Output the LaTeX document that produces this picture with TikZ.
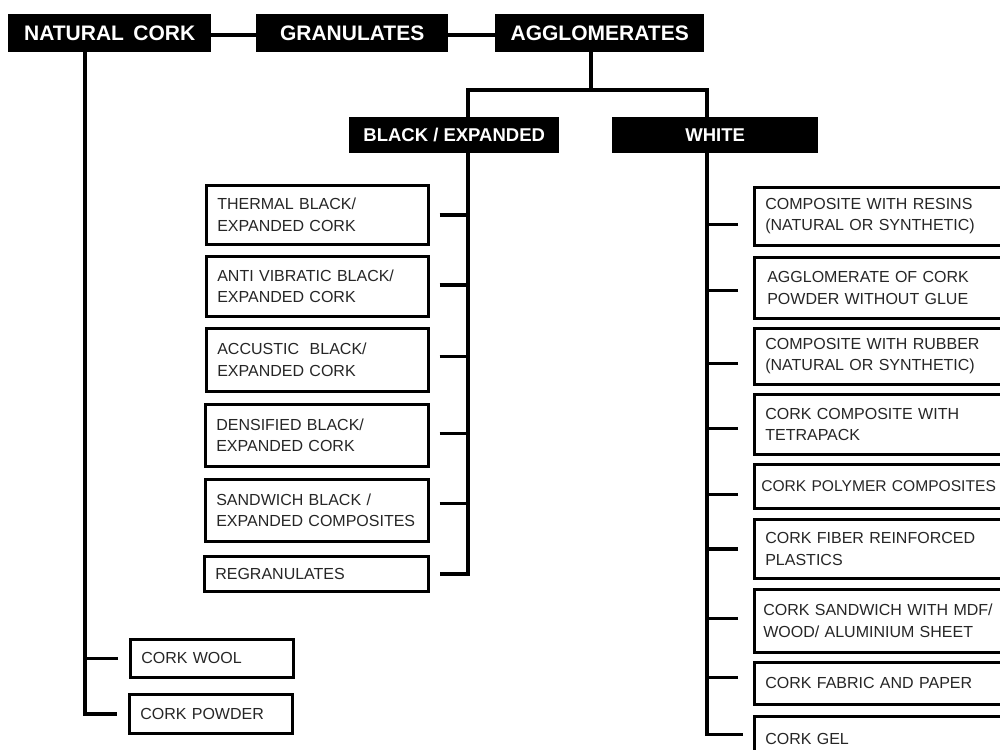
\documentclass[tikz,border=0pt]{standalone}
\usepackage{fontspec}
\setmainfont{Liberation Sans}
\definecolor{txt}{HTML}{262626}
\begin{document}
\begin{tikzpicture}[x=1pt,y=-1pt,
  conn/.style={line width=3.6pt, line join=miter},
  hdr/.style={fill=black, text=white, anchor=north west, inner sep=0pt, font=\bfseries\fontsize{21}{21}\selectfont},
  subhdr/.style={hdr, font=\bfseries\fontsize{18.5}{18.5}\selectfont},
  item/.style={draw=black, line width=2.6pt, anchor=north west, inner xsep=11pt, inner ysep=0pt, align=left, text=txt, font=\fontsize{16}{21.5}\selectfont}]
\fill[white] (0,0) rectangle (1000,749);
\useasboundingbox (0,0) rectangle (1000,749);
\clip (0,0) rectangle (1000,749);

% headers
\node[hdr, minimum width=203pt, minimum height=38pt] (nat) at (8,14) {NATURAL\hspace{0.45em}CORK};
\node[hdr, minimum width=192pt, minimum height=38pt] (gran) at (256,14) {GRANULATES};
\node[hdr, minimum width=209pt, minimum height=38pt] (aggl) at (495,14) {AGGLOMERATES};
\node[subhdr, minimum width=210pt, minimum height=36pt] (be) at (349,117) {BLACK / EXPANDED};
\node[subhdr, minimum width=206pt, minimum height=36pt] (wh) at (612,117) {WHITE};

% black / expanded items
\node[item, text width=200pt, minimum height=59pt] (b1) at (205,184) {THERMAL BLACK/\\EXPANDED CORK};
\node[item, text width=200pt, minimum height=60pt] (b2) at (205,255) {ANTI VIBRATIC BLACK/\\EXPANDED CORK};
\node[item, text width=200pt, minimum height=63pt] (b3) at (205,327) {ACCUSTIC\ \ BLACK/\\EXPANDED CORK};
\node[item, text width=201pt, minimum height=62pt] (b4) at (204,403) {DENSIFIED BLACK/\\EXPANDED CORK};
\node[item, text width=201pt, minimum height=62pt] (b5) at (204,478) {SANDWICH BLACK /\\EXPANDED COMPOSITES};
\node[item, text width=202pt, minimum height=35pt] (b6) at (203,555) {REGRANULATES};

% white items
\node[item, text width=262pt, minimum height=58pt] (w1) at (753,186) {COMPOSITE WITH RESINS\\(NATURAL OR SYNTHETIC)};
\node[item, text width=262pt, minimum height=61pt] (w2) at (753,256) {\hspace{2pt}AGGLOMERATE OF CORK\\\hspace{2pt}POWDER WITHOUT GLUE};
\node[item, text width=262pt, minimum height=56pt] (w3) at (753,327) {COMPOSITE WITH RUBBER\\(NATURAL OR SYNTHETIC)};
\node[item, text width=262pt, minimum height=60pt] (w4) at (753,393) {CORK COMPOSITE WITH\\TETRAPACK};
\node[item, text width=270pt, inner xsep=7pt, minimum height=44pt, font=\fontsize{15.6}{21.5}\selectfont] (w5) at (753,463) {CORK POLYMER COMPOSITES};
\node[item, text width=262pt, minimum height=59pt] (w6) at (753,518) {CORK FIBER REINFORCED\\PLASTICS};
\node[item, text width=266pt, inner xsep=9pt, minimum height=63pt] (w7) at (753,588) {CORK SANDWICH WITH MDF/\\WOOD/ ALUMINIUM SHEET};
\node[item, text width=262pt, minimum height=42pt] (w8) at (753,661) {CORK FABRIC AND PAPER};
\node[item, text width=262pt, minimum height=45pt] (w9) at (753,715) {CORK GEL};

% natural cork items
\node[item, text width=141pt, minimum height=38pt] (wool) at (129,638) {CORK WOOL};
\node[item, text width=141pt, minimum height=39pt] (powder) at (128,693) {CORK POWDER};

% trunk coordinates
\coordinate (nv) at (85,0);
\coordinate (bv) at (468,0);
\coordinate (wv) at (707,0);
\coordinate (split) at (591,90);

% top row
\draw[conn] ([yshift=-2pt]nat.east) -- ([yshift=-2pt]gran.west);
\draw[conn] ([yshift=-2pt]gran.east) -- ([yshift=-2pt]aggl.west);
\draw[conn] (aggl.south -| split) -- (split);
\draw[conn] (be.north -| bv) |- (split) -| (wh.north -| wv);

% natural cork branch
\draw[conn, shorten >=11pt] (nat.south -| nv) |- (powder.west);
\draw[conn, shorten <=11pt] (wool.west) -- (wool.west -| nv);

% black branch
\draw[conn, shorten >=10pt] (be.south -| bv) |- (b6.east);
\foreach \n/\s in {b1/0, b2/1.5, b3/3.5, b4/2, b5/7}
  \draw[conn, shorten <=10pt] ([yshift=\s pt]\n.east) -- ([yshift=\s pt]\n.east -| bv);

% white branch
\draw[conn, shorten >=10pt] (wh.south -| wv) |- ([yshift=4.5pt]w9.west);
\foreach \n/\s in {w1/-8, w2/-2.5, w3/-7, w4/-4, w5/-8, w6/0, w7/2.5, w8/6}
  \draw[conn, shorten <=15pt] ([yshift=\s pt]\n.west) -- ([yshift=\s pt]\n.west -| wv);
\end{tikzpicture}
\end{document}
